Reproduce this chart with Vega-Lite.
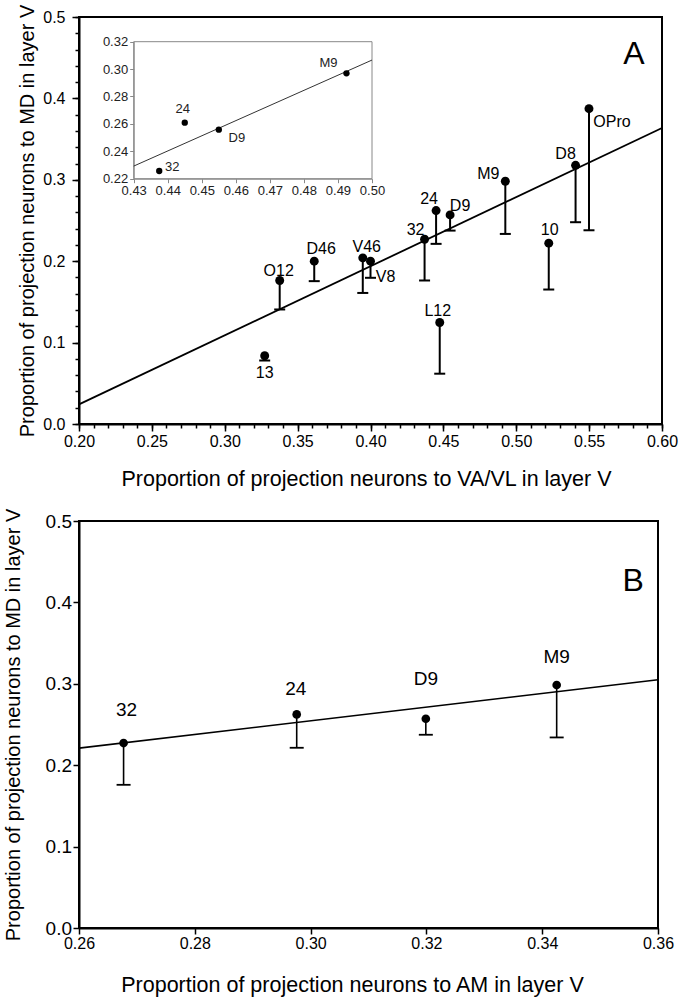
{
  "$schema": "https://vega.github.io/schema/vega-lite/v6.json",
  "background": "white",
  "padding": {"left": 1, "top": 3, "right": 0, "bottom": 0},
  "bounds": "flush",
  "spacing": 97,
  "config": {
    "font": "Liberation Sans",
    "view": {"stroke": "black", "strokeWidth": 2},
    "axis": {"grid": false, "domainColor": "black", "domainWidth": 2, "tickColor": "black", "tickWidth": 1.5, "labelColor": "black", "titleColor": "black", "titleFontWeight": "normal", "labelFont": "Liberation Sans", "titleFont": "Liberation Sans", "labelFlush": false, "labelOverlap": false}
  },
  "datasets": {
    "ptsA": [
      {"area": "13", "x": 0.3274, "y": 0.0838, "lo": 0.078},
      {"area": "O12", "x": 0.3377, "y": 0.1763, "lo": 0.1407},
      {"area": "D46", "x": 0.3614, "y": 0.2, "lo": 0.1755},
      {"area": "V46", "x": 0.3947, "y": 0.2041, "lo": 0.161},
      {"area": "V8", "x": 0.4, "y": 0.2, "lo": 0.1796},
      {"area": "32", "x": 0.4371, "y": 0.227, "lo": 0.1763},
      {"area": "24", "x": 0.445, "y": 0.2622, "lo": 0.2213},
      {"area": "L12", "x": 0.4475, "y": 0.1247, "lo": 0.0618},
      {"area": "D9", "x": 0.4546, "y": 0.2569, "lo": 0.2376},
      {"area": "M9", "x": 0.4925, "y": 0.2982, "lo": 0.2335},
      {"area": "10", "x": 0.5223, "y": 0.2221, "lo": 0.1652},
      {"area": "D8", "x": 0.5407, "y": 0.3178, "lo": 0.2479},
      {"area": "OPro", "x": 0.5499, "y": 0.3874, "lo": 0.238}
    ],
    "lineA": [{"x": 0.2, "y": 0.0241}, {"x": 0.6, "y": 0.3636}],
    "inset": [
      {"area": "32", "x": 0.4375, "y": 0.2256},
      {"area": "24", "x": 0.445, "y": 0.2609},
      {"area": "D9", "x": 0.455, "y": 0.2558},
      {"area": "M9", "x": 0.4925, "y": 0.2969}
    ],
    "lineInset": [{"x": 0.43, "y": 0.2292}, {"x": 0.5, "y": 0.3066}],
    "ptsB": [
      {"area": "32", "x": 0.2677, "y": 0.2272, "lo": 0.1759},
      {"area": "24", "x": 0.2976, "y": 0.2624, "lo": 0.2214},
      {"area": "D9", "x": 0.3199, "y": 0.2571, "lo": 0.2374},
      {"area": "M9", "x": 0.3425, "y": 0.2985, "lo": 0.2341}
    ],
    "lineB": [{"x": 0.26, "y": 0.221}, {"x": 0.36, "y": 0.305}],
    "panels": [{"panel": "A", "x": 0.5808, "y": 0.4417}, {"panel": "B", "x": 0.3557, "y": 0.4145}]
  },
  "vconcat": [
    {
      "width": 583,
      "height": 407,
      "resolve": {"scale": {"x": "independent", "y": "independent"}, "axis": {"x": "independent", "y": "independent"}},
      "layer": [
        {
          "resolve": {"axis": {"x": "independent", "y": "independent"}},
          "layer": [
            {
              "data": {"name": "lineA"},
              "mark": {"type": "line", "color": "black", "strokeWidth": 1.8},
              "encoding": {
                "x": {"field": "x", "type": "quantitative",
                  "scale": {"domain": [0.2, 0.6], "nice": false, "zero": false},
                  "axis": {"orient": "bottom", "title": null, "labels": false, "domain": false, "tickSize": 4,
                    "values": [0.2,0.21,0.22,0.23,0.24,0.25,0.26,0.27,0.28,0.29,0.3,0.31,0.32,0.33,0.34,0.35,0.36,0.37,0.38,0.39,0.4,0.41,0.42,0.43,0.44,0.45,0.46,0.47,0.48,0.49,0.5,0.51,0.52,0.53,0.54,0.55,0.56,0.57,0.58,0.59,0.6]}},
                "y": {"field": "y", "type": "quantitative",
                  "scale": {"domain": [0, 0.5], "nice": false, "zero": false},
                  "axis": {"orient": "left", "title": null, "labels": false, "domain": false, "tickSize": 4,
                    "values": [0,0.02,0.04,0.06,0.08,0.1,0.12,0.14,0.16,0.18,0.2,0.22,0.24,0.26,0.28,0.3,0.32,0.34,0.36,0.38,0.4,0.42,0.44,0.46,0.48,0.5]}}
              }
            },
            {
              "layer": [
                {
                  "data": {"name": "ptsA"},
                  "mark": {"type": "rule", "color": "black", "strokeWidth": 2},
                  "encoding": {
                    "x": {"field": "x", "type": "quantitative",
                      "scale": {"domain": [0.2, 0.6], "nice": false, "zero": false},
                      "axis": {"orient": "bottom", "title": "Proportion of projection neurons to VA/VL in layer V",
                        "values": [0.2,0.25,0.3,0.35,0.4,0.45,0.5,0.55,0.6], "format": ".2f", "tickSize": 7, "labelOverlap": false,
                        "labelFontSize": 16, "labelPadding": 2, "titleFontSize": 21.5, "titleY": 61, "titleX": 287, "titleBaseline": "alphabetic"}},
                    "y": {"field": "y", "type": "quantitative",
                      "scale": {"domain": [0, 0.5], "nice": false, "zero": false},
                      "axis": {"orient": "left", "title": "Proportion of projection neurons to MD in layer V",
                        "values": [0,0.1,0.2,0.3,0.4,0.5], "format": ".1f", "tickSize": 7, "labelOverlap": false,
                        "labelFontSize": 16, "labelPadding": 7, "titleFontSize": 20, "titleX": -52, "titleBaseline": "middle"}},
                    "y2": {"field": "lo"}
                  }
                },
                {
                  "data": {"name": "ptsA"},
                  "mark": {"type": "tick", "orient": "horizontal", "size": 11, "thickness": 2, "color": "black", "opacity": 1},
                  "encoding": {"x": {"field": "x", "type": "quantitative"}, "y": {"field": "lo", "type": "quantitative"}}
                },
                {
                  "data": {"name": "ptsA"},
                  "mark": {"type": "circle", "size": 80, "color": "black", "opacity": 1},
                  "encoding": {"x": {"field": "x", "type": "quantitative"}, "y": {"field": "y", "type": "quantitative"}}
                },
                {"data": {"name": "ptsA"}, "transform": [{"filter": "datum.area === 'OPro'"}], "mark": {"type": "text", "fontSize": 16, "color": "black", "dx": 23, "dy": 13, "baseline": "middle"}, "encoding": {"x": {"field": "x", "type": "quantitative"}, "y": {"field": "y", "type": "quantitative"}, "text": {"field": "area"}}},
                {"data": {"name": "ptsA"}, "transform": [{"filter": "datum.area === 'D8'"}], "mark": {"type": "text", "fontSize": 16, "color": "black", "dx": -10, "dy": -11, "baseline": "middle"}, "encoding": {"x": {"field": "x", "type": "quantitative"}, "y": {"field": "y", "type": "quantitative"}, "text": {"field": "area"}}},
                {"data": {"name": "ptsA"}, "transform": [{"filter": "datum.area === 'M9'"}], "mark": {"type": "text", "fontSize": 16, "color": "black", "dx": -17, "dy": -7, "baseline": "middle"}, "encoding": {"x": {"field": "x", "type": "quantitative"}, "y": {"field": "y", "type": "quantitative"}, "text": {"field": "area"}}},
                {"data": {"name": "ptsA"}, "transform": [{"filter": "datum.area === '10'"}], "mark": {"type": "text", "fontSize": 16, "color": "black", "dx": 1, "dy": -13, "baseline": "middle"}, "encoding": {"x": {"field": "x", "type": "quantitative"}, "y": {"field": "y", "type": "quantitative"}, "text": {"field": "area"}}},
                {"data": {"name": "ptsA"}, "transform": [{"filter": "datum.area === '24'"}], "mark": {"type": "text", "fontSize": 16, "color": "black", "dx": -7, "dy": -12, "baseline": "middle"}, "encoding": {"x": {"field": "x", "type": "quantitative"}, "y": {"field": "y", "type": "quantitative"}, "text": {"field": "area"}}},
                {"data": {"name": "ptsA"}, "transform": [{"filter": "datum.area === 'D9'"}], "mark": {"type": "text", "fontSize": 16, "color": "black", "dx": 10, "dy": -9, "baseline": "middle"}, "encoding": {"x": {"field": "x", "type": "quantitative"}, "y": {"field": "y", "type": "quantitative"}, "text": {"field": "area"}}},
                {"data": {"name": "ptsA"}, "transform": [{"filter": "datum.area === '32'"}], "mark": {"type": "text", "fontSize": 16, "color": "black", "dx": -9, "dy": -9, "baseline": "middle"}, "encoding": {"x": {"field": "x", "type": "quantitative"}, "y": {"field": "y", "type": "quantitative"}, "text": {"field": "area"}}},
                {"data": {"name": "ptsA"}, "transform": [{"filter": "datum.area === 'V8'"}], "mark": {"type": "text", "fontSize": 16, "color": "black", "dx": 15, "dy": 16, "baseline": "middle"}, "encoding": {"x": {"field": "x", "type": "quantitative"}, "y": {"field": "y", "type": "quantitative"}, "text": {"field": "area"}}},
                {"data": {"name": "ptsA"}, "transform": [{"filter": "datum.area === 'L12'"}], "mark": {"type": "text", "fontSize": 16, "color": "black", "dx": -2, "dy": -11, "baseline": "middle"}, "encoding": {"x": {"field": "x", "type": "quantitative"}, "y": {"field": "y", "type": "quantitative"}, "text": {"field": "area"}}},
                {"data": {"name": "ptsA"}, "transform": [{"filter": "datum.area === '13'"}], "mark": {"type": "text", "fontSize": 16, "color": "black", "dx": 0, "dy": 17, "baseline": "middle"}, "encoding": {"x": {"field": "x", "type": "quantitative"}, "y": {"field": "y", "type": "quantitative"}, "text": {"field": "area"}}},
                {"data": {"name": "ptsA"}, "transform": [{"filter": "datum.area === 'O12'"}], "mark": {"type": "text", "fontSize": 16, "color": "black", "dx": -1, "dy": -9, "baseline": "middle"}, "encoding": {"x": {"field": "x", "type": "quantitative"}, "y": {"field": "y", "type": "quantitative"}, "text": {"field": "area"}}},
                {"data": {"name": "ptsA"}, "transform": [{"filter": "datum.area === 'D46'"}], "mark": {"type": "text", "fontSize": 16, "color": "black", "dx": 7, "dy": -12, "baseline": "middle"}, "encoding": {"x": {"field": "x", "type": "quantitative"}, "y": {"field": "y", "type": "quantitative"}, "text": {"field": "area"}}},
                {"data": {"name": "ptsA"}, "transform": [{"filter": "datum.area === 'V46'"}], "mark": {"type": "text", "fontSize": 16, "color": "black", "dx": 4, "dy": -11, "baseline": "middle"}, "encoding": {"x": {"field": "x", "type": "quantitative"}, "y": {"field": "y", "type": "quantitative"}, "text": {"field": "area"}}},
                {"data": {"name": "panels"}, "transform": [{"filter": "datum.panel === 'A'"}], "mark": {"type": "text", "fontSize": 32, "color": "black", "baseline": "alphabetic"}, "encoding": {"x": {"field": "x", "type": "quantitative"}, "y": {"field": "y", "type": "quantitative"}, "text": {"field": "panel"}}}
              ]
            }
          ]
        },
        {
          "layer": [
            {
              "data": {"values": [{}]},
              "mark": {"type": "rect", "fill": "white", "fillOpacity": 0, "stroke": "#888888", "strokeWidth": 1},
              "encoding": {
                "x": {"datum": 0.43, "type": "quantitative",
                  "scale": {"domain": [0.43, 0.5], "range": [54.7, 293], "nice": false, "zero": false},
                  "axis": {"orient": "bottom", "offset": -245.3, "title": null, "values": [0.43,0.44,0.45,0.46,0.47,0.48,0.49,0.5], "format": ".2f", "labelFontSize": 13, "labelColor": "#222222", "domainColor": "#888888", "domainWidth": 1, "tickColor": "#888888", "tickWidth": 1, "tickSize": 4, "labelPadding": 2, "labelOverlap": false}},
                "x2": {"datum": 0.5},
                "y": {"datum": 0.22, "type": "quantitative",
                  "scale": {"domain": [0.22, 0.32], "range": [161.7, 24.7], "nice": false, "zero": false},
                  "axis": {"orient": "left", "offset": -54.7, "title": null, "values": [0.22,0.24,0.26,0.28,0.3,0.32], "format": ".2f", "labelFontSize": 13, "labelColor": "#222222", "domainColor": "#888888", "domainWidth": 1, "tickColor": "#888888", "tickWidth": 1, "tickSize": 4, "labelPadding": 2, "labelOverlap": false}},
                "y2": {"datum": 0.32}
              }
            },
            {
              "data": {"name": "lineInset"},
              "mark": {"type": "line", "color": "#333333", "strokeWidth": 1},
              "encoding": {"x": {"field": "x", "type": "quantitative"}, "y": {"field": "y", "type": "quantitative"}}
            },
            {
              "data": {"name": "inset"},
              "mark": {"type": "circle", "size": 40, "color": "black", "opacity": 1},
              "encoding": {"x": {"field": "x", "type": "quantitative"}, "y": {"field": "y", "type": "quantitative"}}
            },
            {"data": {"name": "inset"}, "transform": [{"filter": "datum.area === '32'"}], "mark": {"type": "text", "fontSize": 13, "color": "#222222", "dx": 13, "dy": -4, "baseline": "middle"}, "encoding": {"x": {"field": "x", "type": "quantitative"}, "y": {"field": "y", "type": "quantitative"}, "text": {"field": "area"}}},
            {"data": {"name": "inset"}, "transform": [{"filter": "datum.area === '24'"}], "mark": {"type": "text", "fontSize": 13, "color": "#222222", "dx": -2, "dy": -14, "baseline": "middle"}, "encoding": {"x": {"field": "x", "type": "quantitative"}, "y": {"field": "y", "type": "quantitative"}, "text": {"field": "area"}}},
            {"data": {"name": "inset"}, "transform": [{"filter": "datum.area === 'D9'"}], "mark": {"type": "text", "fontSize": 13, "color": "#222222", "dx": 18, "dy": 8, "baseline": "middle"}, "encoding": {"x": {"field": "x", "type": "quantitative"}, "y": {"field": "y", "type": "quantitative"}, "text": {"field": "area"}}},
            {"data": {"name": "inset"}, "transform": [{"filter": "datum.area === 'M9'"}], "mark": {"type": "text", "fontSize": 13, "color": "#222222", "dx": -18, "dy": -10, "baseline": "middle"}, "encoding": {"x": {"field": "x", "type": "quantitative"}, "y": {"field": "y", "type": "quantitative"}, "text": {"field": "area"}}}
          ]
        }
      ]
    },
    {
      "width": 579,
      "height": 407,
      "layer": [
        {
          "data": {"name": "lineB"},
          "mark": {"type": "line", "color": "black", "strokeWidth": 1.6},
          "encoding": {
            "x": {"field": "x", "type": "quantitative",
              "scale": {"domain": [0.26, 0.36], "nice": false, "zero": false},
              "axis": {"orient": "bottom", "title": "Proportion of projection neurons to AM in layer V", "values": [0.26,0.28,0.3,0.32,0.34,0.36], "format": ".2f", "tickSize": 6, "labelPadding": 1, "labelFontSize": 16, "labelOverlap": false, "titleFontSize": 21.5, "titleY": 63, "titleX": 273, "titleBaseline": "alphabetic"}},
            "y": {"field": "y", "type": "quantitative",
              "scale": {"domain": [0, 0.5], "nice": false, "zero": false},
              "axis": {"orient": "left", "title": "Proportion of projection neurons to MD in layer V", "values": [0,0.1,0.2,0.3,0.4,0.5], "format": ".1f", "tickSize": 6, "labelPadding": 1.5, "labelFontSize": 19, "labelOverlap": false, "titleFontSize": 20, "titleX": -66, "titleBaseline": "middle"}}
          }
        },
        {
          "data": {"name": "ptsB"},
          "mark": {"type": "rule", "color": "black", "strokeWidth": 1.6},
          "encoding": {"x": {"field": "x", "type": "quantitative"}, "y": {"field": "y", "type": "quantitative"}, "y2": {"field": "lo"}}
        },
        {
          "data": {"name": "ptsB"},
          "mark": {"type": "tick", "orient": "horizontal", "size": 14, "thickness": 1.8, "color": "black", "opacity": 1},
          "encoding": {"x": {"field": "x", "type": "quantitative"}, "y": {"field": "lo", "type": "quantitative"}}
        },
        {
          "data": {"name": "ptsB"},
          "mark": {"type": "circle", "size": 75, "color": "black", "opacity": 1},
          "encoding": {"x": {"field": "x", "type": "quantitative"}, "y": {"field": "y", "type": "quantitative"}}
        },
        {"data": {"name": "ptsB"}, "transform": [{"filter": "datum.area === '32'"}], "mark": {"type": "text", "fontSize": 19, "color": "black", "dx": 3, "dy": -33, "baseline": "middle"}, "encoding": {"x": {"field": "x", "type": "quantitative"}, "y": {"field": "y", "type": "quantitative"}, "text": {"field": "area"}}},
        {"data": {"name": "ptsB"}, "transform": [{"filter": "datum.area === '24'"}], "mark": {"type": "text", "fontSize": 19, "color": "black", "dx": -1, "dy": -25, "baseline": "middle"}, "encoding": {"x": {"field": "x", "type": "quantitative"}, "y": {"field": "y", "type": "quantitative"}, "text": {"field": "area"}}},
        {"data": {"name": "ptsB"}, "transform": [{"filter": "datum.area === 'D9'"}], "mark": {"type": "text", "fontSize": 19, "color": "black", "dx": 0, "dy": -40, "baseline": "middle"}, "encoding": {"x": {"field": "x", "type": "quantitative"}, "y": {"field": "y", "type": "quantitative"}, "text": {"field": "area"}}},
        {"data": {"name": "ptsB"}, "transform": [{"filter": "datum.area === 'M9'"}], "mark": {"type": "text", "fontSize": 19, "color": "black", "dx": 0, "dy": -28, "baseline": "middle"}, "encoding": {"x": {"field": "x", "type": "quantitative"}, "y": {"field": "y", "type": "quantitative"}, "text": {"field": "area"}}},
        {"data": {"name": "panels"}, "transform": [{"filter": "datum.panel === 'B'"}], "mark": {"type": "text", "fontSize": 32, "color": "black", "baseline": "alphabetic"}, "encoding": {"x": {"field": "x", "type": "quantitative"}, "y": {"field": "y", "type": "quantitative"}, "text": {"field": "panel"}}}
      ]
    }
  ]
}
